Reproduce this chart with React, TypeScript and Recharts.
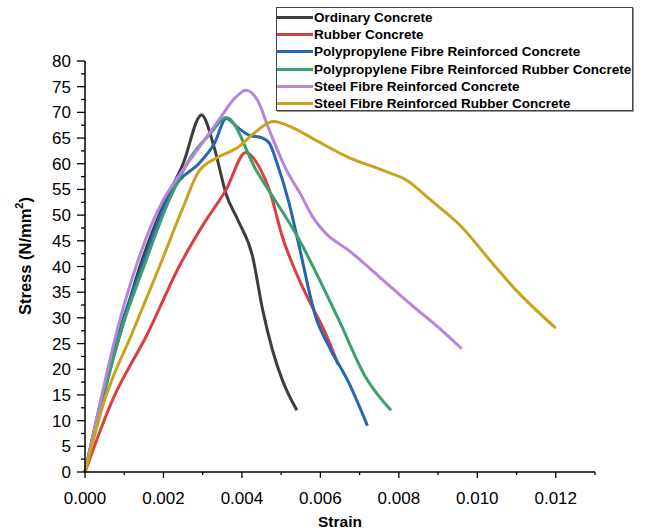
import { LineChart, Line, XAxis, YAxis } from 'recharts';

// Stress–strain curves (strain in mm/mm, stress in N/mm²)
const ordinaryStrain = [0, 0.0004, 0.0009, 0.0014, 0.002, 0.0025, 0.00297, 0.0033, 0.0036, 0.0039, 0.00427, 0.00453, 0.00478, 0.00503, 0.0054];
const ordinaryStress = [0, 13.5, 27, 40, 52, 60, 69.5, 63, 54, 49, 42, 31.5, 23.7, 17.9, 12];

const rubberStrain = [0, 0.0007, 0.0016, 0.0024, 0.003, 0.0036, 0.0041, 0.00448, 0.0047, 0.00503, 0.00546, 0.00579, 0.00613, 0.00645];
const rubberStress = [0, 14, 27, 40, 48, 55, 62.2, 58.8, 54.9, 45.8, 37.4, 32.2, 27, 21];

const ppStrain = [0, 0.00043, 0.00086, 0.00145, 0.0021, 0.0024, 0.0029, 0.0033, 0.0036, 0.0039, 0.0042, 0.0045, 0.0047, 0.0049, 0.0052, 0.00546, 0.00588, 0.00622, 0.00673, 0.0072];
const ppStress = [0, 14, 27, 40, 53, 56.7, 60, 64, 68.8, 67, 65.5, 65.1, 64, 60, 52.4, 43.9, 30.2, 24.4, 17.3, 9];

const ppRubberStrain = [0, 0.00045, 0.0009, 0.0015, 0.00215, 0.0027, 0.0032, 0.0036, 0.00436, 0.00546, 0.00647, 0.00715, 0.0078];
const ppRubberStress = [0, 14, 27, 40, 53, 61.3, 65.9, 69, 58.8, 45.2, 29.6, 18.5, 12];

const steelStrain = [0, 0.0004, 0.0008, 0.0013, 0.002, 0.0022, 0.0028, 0.0034, 0.00385, 0.0041, 0.0044, 0.0047, 0.0051, 0.0055, 0.0058, 0.00613, 0.00673, 0.0075, 0.0084, 0.009, 0.0096];
const steelStress = [0, 14, 27, 40, 53, 55.5, 62, 68.4, 73, 74.3, 72.3, 66.5, 59.3, 54, 49.7, 46.5, 43.1, 38, 32, 28.2, 24];

const steelRubberStrain = [0, 0.0005, 0.0012, 0.0019, 0.0025, 0.0029, 0.0034, 0.0039, 0.0043, 0.0048, 0.0053, 0.0059, 0.0067, 0.0076, 0.0082, 0.0088, 0.0096, 0.0104, 0.011, 0.012];
const steelRubberStress = [0, 14, 27, 40, 51.5, 58.5, 61.3, 63.2, 65.9, 68.2, 67, 64.5, 61.3, 58.7, 56.8, 53, 47.7, 40.5, 35.3, 28];

const seriesNames = [
  'Ordinary Concrete',
  'Rubber Concrete',
  'Polypropylene Fibre Reinforced Concrete',
  'Polypropylene Fibre Reinforced Rubber Concrete',
  'Steel Fibre Reinforced Concrete',
  'Steel Fibre Reinforced Rubber Concrete',
];
const seriesColors = ['#3d3d3d', '#d8413f', '#2466b4', '#3c9f6c', '#b586d9', '#c9a31f'];

const yTicks = Array.from({ length: 33 }, (_, i) => i * 2.5);
const xTicks = Array.from({ length: 14 }, (_, i) => i / 1000);

const FONT = '"Liberation Sans", Arial, sans-serif';
const PLOT_LEFT = 85;
const PLOT_BOTTOM = 472;

const toPoints = (strain: number[], stress: number[]) => strain.map((x, i) => ({ x, y: stress[i] }));

const seriesData = [
  toPoints(ordinaryStrain, ordinaryStress),
  toPoints(rubberStrain, rubberStress),
  toPoints(ppStrain, ppStress),
  toPoints(ppRubberStrain, ppRubberStress),
  toPoints(steelStrain, steelStress),
  toPoints(steelRubberStrain, steelRubberStress),
];

function YTick(props: any) {
  const { y, payload } = props;
  const major = Math.round(payload.value * 10) % 50 === 0;
  return (
    <g>
      <line x1={PLOT_LEFT - (major ? 8 : 4)} x2={PLOT_LEFT} y1={y} y2={y} stroke="#000" strokeWidth={1.3} />
      {major && (
        <text x={71} y={y + 6} textAnchor="end" fontSize={17} fontFamily={FONT} fill="#000">
          {payload.value}
        </text>
      )}
    </g>
  );
}

function XTick(props: any) {
  const { x, payload } = props;
  const major = Math.round(payload.value * 1000) % 2 === 0;
  return (
    <g>
      <line x1={x} x2={x} y1={PLOT_BOTTOM} y2={PLOT_BOTTOM + (major ? 6 : 3)} stroke="#000" strokeWidth={1.3} />
      {major && (
        <text x={x} y={504} textAnchor="middle" fontSize={17} fontFamily={FONT} fill="#000">
          {payload.value.toFixed(3)}
        </text>
      )}
    </g>
  );
}

export default function App() {
  return (
    <div style={{ position: 'absolute', left: 0, top: 0, width: 645, height: 532, background: '#fff' }}>
      <LineChart width={645} height={532} margin={{ top: 61, right: 50, left: 0, bottom: 0 }}>
        <XAxis
          type="number"
          dataKey="x"
          domain={[0, 0.013]}
          ticks={xTicks}
          interval={0}
          height={60}
          axisLine={{ stroke: '#000', strokeWidth: 1.5 }}
          tickLine={false}
          tick={<XTick />}
          label={() => (
            <text x={340} y={527} textAnchor="middle" fontSize={15.5} fontWeight="bold" fontFamily={FONT} fill="#000">
              Strain
            </text>
          )}
        />
        <YAxis
          type="number"
          domain={[0, 80]}
          ticks={yTicks}
          interval={0}
          width={85}
          axisLine={{ stroke: '#000', strokeWidth: 1.5 }}
          tickLine={false}
          tick={<YTick />}
          label={() => (
            <text
              x={25}
              y={256}
              transform="rotate(-90 25 256)"
              textAnchor="middle"
              dominantBaseline="central"
              fontSize={16.5}
              fontWeight="bold"
              fontFamily={FONT}
              fill="#000"
            >
              Stress (N/mm
              <tspan fontSize={11} dy={-6}>2</tspan>
              <tspan dy={6}>)</tspan>
            </text>
          )}
        />
        {seriesData.map((points, i) => (
          <Line
            key={seriesNames[i]}
            data={points}
            dataKey="y"
            name={seriesNames[i]}
            type="monotone"
            stroke={seriesColors[i]}
            strokeWidth={3}
            dot={false}
            activeDot={false}
            isAnimationActive={false}
          />
        ))}
      </LineChart>
      {/* legend box, top right */}
      <div
        style={{
          position: 'absolute',
          left: 276,
          top: 7,
          width: 357,
          height: 104,
          boxSizing: 'border-box',
          border: '1px solid #444',
          boxShadow: '1px 1px 0 #999',
          paddingTop: 1,
          background: '#fff',
          fontFamily: FONT,
          fontWeight: 'bold',
          fontSize: 13.5,
        }}
      >
        {seriesNames.map((name, i) => (
          <div key={name} style={{ display: 'flex', alignItems: 'center', height: 17.2, whiteSpace: 'nowrap' }}>
            <span style={{ display: 'inline-block', width: 36, height: 3, background: seriesColors[i] }} />
            <span style={{ marginLeft: 1 }}>{name}</span>
          </div>
        ))}
      </div>
    </div>
  );
}
